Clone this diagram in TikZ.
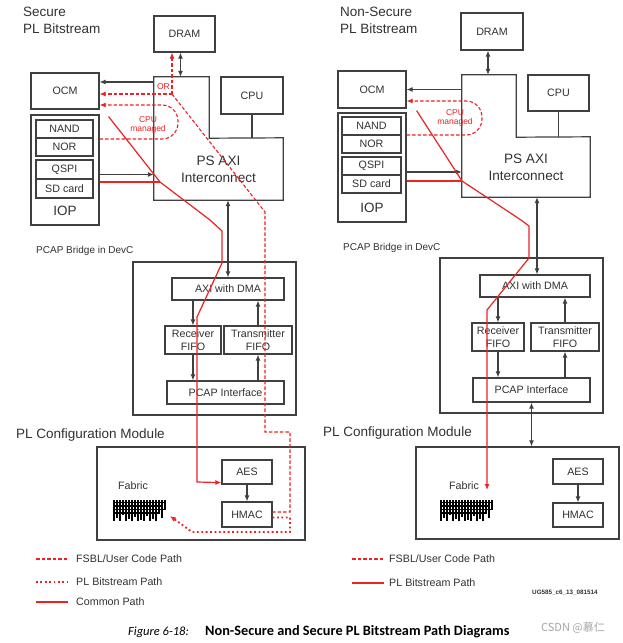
\documentclass[tikz,border=0pt]{standalone}
\usepackage{fontspec}
\setmainfont{Liberation Sans}
\newfontfamily\capfont{Carlito}
\newfontfamily\cjkfont{Noto Sans CJK SC}
\usepackage{tikz}
\usetikzlibrary{arrows.meta,calc}
\definecolor{linegray}{RGB}{64,64,64}
\definecolor{txtgray}{RGB}{50,50,50}
\definecolor{pathred}{RGB}{238,34,34}

\begin{document}
\begin{tikzpicture}[x=1pt, y=-1pt, >={Latex[length=6pt,width=5pt]},
  box/.style={draw=linegray, line width=1.2pt, inner sep=0pt, text=txtgray, font=\fontsize{10.7}{13}\selectfont, align=center},
  hidden/.style={inner sep=0pt},
  outline/.style={draw=linegray, line width=1.2pt},
  title/.style={text=txtgray, font=\fontsize{13.5}{17}\selectfont, align=left, inner sep=0pt},
  conn/.style={draw=linegray, line width=1.1pt},
  common/.style={draw=pathred, line width=1.2pt},
  fsbl/.style={draw=pathred, line width=1.1pt, dash pattern=on 3.5pt off 2pt},
  plbit/.style={draw=pathred, line width=1.8pt, dash pattern=on 1.8pt off 2.6pt},
  small/.style={text=pathred, font=\fontsize{8.5}{9.5}\selectfont, inner sep=0pt, align=center},
  legend/.style={text=txtgray, font=\fontsize{10.7}{12}\selectfont, anchor=west, inner sep=0pt}]

\useasboundingbox[fill=white] (0,0) rectangle (622,643);

% secure side
\node[title, anchor=north west] (titleL) at (23,7) {Secure\\PL Bitstream};
\node[box, minimum width=61, minimum height=36] (dramL) at (184.5,34) {DRAM};
\node[box, minimum width=68, minimum height=36] (ocmL) at (65,91) {OCM};
\node[box, minimum width=68, minimum height=110] (iopL) at (65,170) {};
\node[title] (ioptxtL) at (65,211) {IOP};
\node[box, minimum width=57, minimum height=18] (nandL) at (64.5,129) {NAND};
\node[box, minimum width=57, minimum height=18] (norL) at (64.5,147) {NOR};
\node[box, minimum width=57, minimum height=19] (qspiL) at (64.5,169.5) {QSPI};
\node[box, minimum width=57, minimum height=19] (sdL) at (64.5,188.5) {SD card};
\node[hidden, minimum width=55, minimum height=61] (axiTopL) at (181.5,107.5) {};
\node[hidden, minimum width=129, minimum height=62, text=txtgray, font=\fontsize{13.6}{17}\selectfont, align=center] (axiL) at (218.5,169) {PS AXI\\Interconnect};
\draw[outline] (axiTopL.north west) -- (axiTopL.north east) -- (axiTopL.south east) -- (axiL.north east) -- (axiL.south east) -- (axiL.south west) -- cycle;
\node[box, minimum width=62, minimum height=37] (cpuL) at (252,95.5) {CPU};

\node[legend, font=\fontsize{10}{12}\selectfont] (bridgetxtL) at (36,251) {PCAP Bridge in DevC};
\node[box, minimum width=163, minimum height=153] (bridgeL) at (214.5,338.5) {};
\node[box, minimum width=112, minimum height=22] (dmaL) at (228,289) {AXI with DMA};
\node[box, minimum width=56, minimum height=28] (rxL) at (193,340) {Receiver\\FIFO};
\node[box, minimum width=68, minimum height=28] (txL) at (258,340) {Transmitter\\FIFO};
\node[box, minimum width=117, minimum height=23] (pcapL) at (225.5,392.5) {PCAP Interface};

\node[title, anchor=west] (plctxtL) at (16,435) {PL Configuration Module};
\node[box, minimum width=208, minimum height=93] (plcL) at (201,493.5) {};
\node[box, minimum width=50, minimum height=24] (aesL) at (247,472) {AES};
\node[box, minimum width=50, minimum height=25] (hmacL) at (247,514.5) {HMAC};
\node[text=txtgray, inner sep=0pt, font=\fontsize{10.7}{12}\selectfont] (fabL) at (133,486) {Fabric};
\begin{scope}[shift={(113,500)}, line width=1.3pt]
  \foreach \v/\l in {1/21,4/18,7/21,10/15,13/21,16/19,19/21,22/17,25/21,28/20,31/21,34/16,37/21,40/19,43/21,46/14,49/18,52/10} \draw (\v,0) -- (\v,\l);
  \foreach \h/\w in {2.5/53,6/50,9.5/53,13/47} \draw (0,\h) -- (\w,\h);
\end{scope}

\draw[conn,<->] ([xshift=-4pt]dramL.south) -- ([xshift=-4pt]dramL.south |- axiTopL.north);
\draw[conn,->] ([yshift=9pt]ocmL.east -| axiTopL.west) -- ([yshift=9pt]ocmL.east);
\draw[conn,->] ([yshift=-5pt]qspiL.east -| iopL.east) -- ([yshift=-5pt]qspiL.east -| axiL.west);
\draw[conn] (cpuL.south) -- (cpuL.south |- axiL.north);
\draw[conn,<->] (dmaL.north |- axiL.south) -- (dmaL.north);
\draw[conn,->] (rxL.north |- dmaL.south) -- (rxL.north);
\draw[conn,->] (rxL.south) -- (rxL.south |- pcapL.north);
\draw[conn,->] (txL.south |- pcapL.north) -- (txL.south);
\draw[conn,->] (txL.north) -- (txL.north |- dmaL.south);
\draw[conn,->] (aesL) -- (hmacL);

% red paths, secure
\coordinate (cmL) at (160,182);
\coordinate (orL) at (172,94);
\coordinate (fabinL) at (170,516);
\draw[common,->] ([xshift=9pt,yshift=-7pt]ocmL.south east) -- (cmL) -- (210,220) -- (222,231) -- (222,263) -- (197,317) -- (197,482) -- ([yshift=2pt]aesL.south west);
\draw[common] (iopL.east |- cmL) -- (cmL);
\draw[fsbl,->] (orL) -- (orL |- dramL.south);
\draw[fsbl,->] (orL) -- (orL -| ocmL.east);
\node[small] (orlblL) at (163.5,87) {OR};
\draw[fsbl] (orL) -- (265,212) -- (265,432) -- (290,432) -- (290,512) -- ([yshift=2.5pt]hmacL.east);
\draw[plbit,->] ([yshift=-3pt]hmacL.east) -- (290,517.5) -- (290,532) -- (192,532) -- (fabinL);
\draw[fsbl,->,rounded corners=16pt] (iopL.east |- 0,139) -- (178,139) -- (178,105) -- (ocmL.east |- 0,105);
\node[small] (cpumL) at (148,125) {CPU\\managed};

\node[legend] (lg1L) at (76,559) {FSBL/User Code Path};
\node[legend] (lg2L) at (76,582) {PL Bitstream Path};
\node[legend] (lg3L) at (76,602) {Common Path};
\draw[fsbl] ([xshift=-40pt]lg1L.west) -- ([xshift=-8pt]lg1L.west);
\draw[plbit] ([xshift=-40pt]lg2L.west) -- ([xshift=-8pt]lg2L.west);
\draw[common] ([xshift=-40pt]lg3L.west) -- ([xshift=-8pt]lg3L.west);

% non-secure side
\node[title, anchor=north west] (titleR) at (340,7) {Non-Secure\\PL Bitstream};
\node[box, minimum width=62, minimum height=37] (dramR) at (492,31.5) {DRAM};
\node[box, minimum width=68, minimum height=37] (ocmR) at (372,89.5) {OCM};
\node[box, minimum width=68, minimum height=109] (iopR) at (372,167.5) {};
\node[title] (ioptxtR) at (372,208) {IOP};
\node[box, minimum width=59, minimum height=18] (nandR) at (371.5,126) {NAND};
\node[box, minimum width=59, minimum height=18] (norR) at (371.5,144) {NOR};
\node[box, minimum width=59, minimum height=18] (qspiR) at (371.5,166) {QSPI};
\node[box, minimum width=59, minimum height=18] (sdR) at (371.5,184) {SD card};
\node[hidden, minimum width=54, minimum height=62] (axiTopR) at (489,106) {};
\node[hidden, minimum width=128, minimum height=60, text=txtgray, font=\fontsize{13.6}{17}\selectfont, align=center] (axiR) at (526,167) {PS AXI\\Interconnect};
\draw[outline] (axiTopR.north west) -- (axiTopR.north east) -- (axiTopR.south east) -- (axiR.north east) -- (axiR.south east) -- (axiR.south west) -- cycle;
\node[box, minimum width=61, minimum height=36] (cpuR) at (558.5,93) {CPU};

\node[legend, font=\fontsize{10}{12}\selectfont] (bridgetxtR) at (343,248) {PCAP Bridge in DevC};
\node[box, minimum width=163, minimum height=155] (bridgeR) at (521.5,335.5) {};
\node[box, minimum width=110, minimum height=22] (dmaR) at (535,286) {AXI with DMA};
\node[box, minimum width=52, minimum height=28] (rxR) at (498,337) {Receiver\\FIFO};
\node[box, minimum width=68, minimum height=28] (txR) at (565,337) {Transmitter\\FIFO};
\node[box, minimum width=117, minimum height=24] (pcapR) at (531.5,390) {PCAP Interface};

\node[title, anchor=west] (plctxtR) at (323,433) {PL Configuration Module};
\node[box, minimum width=203, minimum height=92] (plcR) at (517.5,493) {};
\node[box, minimum width=50, minimum height=25] (aesR) at (578,471.5) {AES};
\node[box, minimum width=50, minimum height=24] (hmacR) at (578,515) {HMAC};
\node[text=txtgray, inner sep=0pt, font=\fontsize{10.7}{12}\selectfont] (fabR) at (464,486) {Fabric};
\begin{scope}[shift={(440,500)}, line width=1.3pt]
  \foreach \v/\l in {1/21,4/18,7/21,10/15,13/21,16/19,19/21,22/17,25/21,28/20,31/21,34/16,37/21,40/19,43/21,46/14,49/18,52/10} \draw (\v,0) -- (\v,\l);
  \foreach \h/\w in {2.5/53,6/50,9.5/53,13/47} \draw (0,\h) -- (\w,\h);
\end{scope}

\draw[conn,<->] ([xshift=-4pt]dramR.south) -- ([xshift=-4pt]dramR.south |- axiTopR.north);
\draw[conn,->] (ocmR.east -| axiTopR.west) -- (ocmR.east);
\draw[conn,->] ([yshift=-6pt]qspiR.east -| iopR.east) -- ([yshift=-6pt]qspiR.east -| axiR.west);
\draw[conn] (cpuR.south) -- (cpuR.south |- axiR.north);
\draw[conn,<->] ([xshift=2pt]dmaR.north |- axiR.south) -- ([xshift=2pt]dmaR.north);
\draw[conn,->] (rxR.north |- dmaR.south) -- (rxR.north);
\draw[conn,->] (rxR.south) -- (rxR.south |- pcapR.north);
\draw[conn,->] (txR.south |- pcapR.north) -- (txR.south);
\draw[conn,->] (txR.north) -- (txR.north |- dmaR.south);
\draw[conn,<->] (pcapR.south) -- (pcapR.south |- plcR.north);
\draw[conn,->] (aesR) -- (hmacR);

% red paths, non-secure
\coordinate (cmR) at (462,181);
\coordinate (fabinR) at (487,490);
\draw[common,->] ([xshift=10pt,yshift=-2pt]ocmR.south east) -- (cmR) -- (521,220) -- (529,226) -- (529,258) -- (487,310) -- (fabinR);
\draw[common] (iopR.east |- cmR) -- (cmR);
\draw[fsbl,->,rounded corners=16pt] (iopR.east |- 0,135) -- (482,135) -- (482,101) -- (ocmR.east |- 0,101);
\node[small] (cpumR) at (455,118) {CPU\\managed};

\node[legend] (lg1R) at (389,559) {FSBL/User Code Path};
\node[legend] (lg2R) at (389,583) {PL Bitstream Path};
\draw[fsbl] ([xshift=-37pt]lg1R.west) -- ([xshift=-5pt]lg1R.west);
\draw[common] ([xshift=-37pt]lg2R.west) -- ([xshift=-5pt]lg2R.west);
\node[text=txtgray, font=\bfseries\fontsize{6.3}{7}\selectfont] (tag) at (565,593) {UG585\_c6\_13\_081514};

% caption
\node[anchor=west, inner sep=0pt, font=\capfont\itshape\fontsize{12.5}{14}\selectfont] (figno) at (128,632) {Figure 6-18:};
\node[anchor=west, inner sep=0pt, font=\capfont\bfseries\fontsize{14.3}{16}\selectfont] (figtitle) at (205,632) {Non-Secure and Secure PL Bitstream Path Diagrams};
\node[text=gray!70, inner sep=0pt, font=\cjkfont\fontsize{11}{13}\selectfont] (wm) at (573,628) {CSDN @慕仁};
\end{tikzpicture}
\end{document}
